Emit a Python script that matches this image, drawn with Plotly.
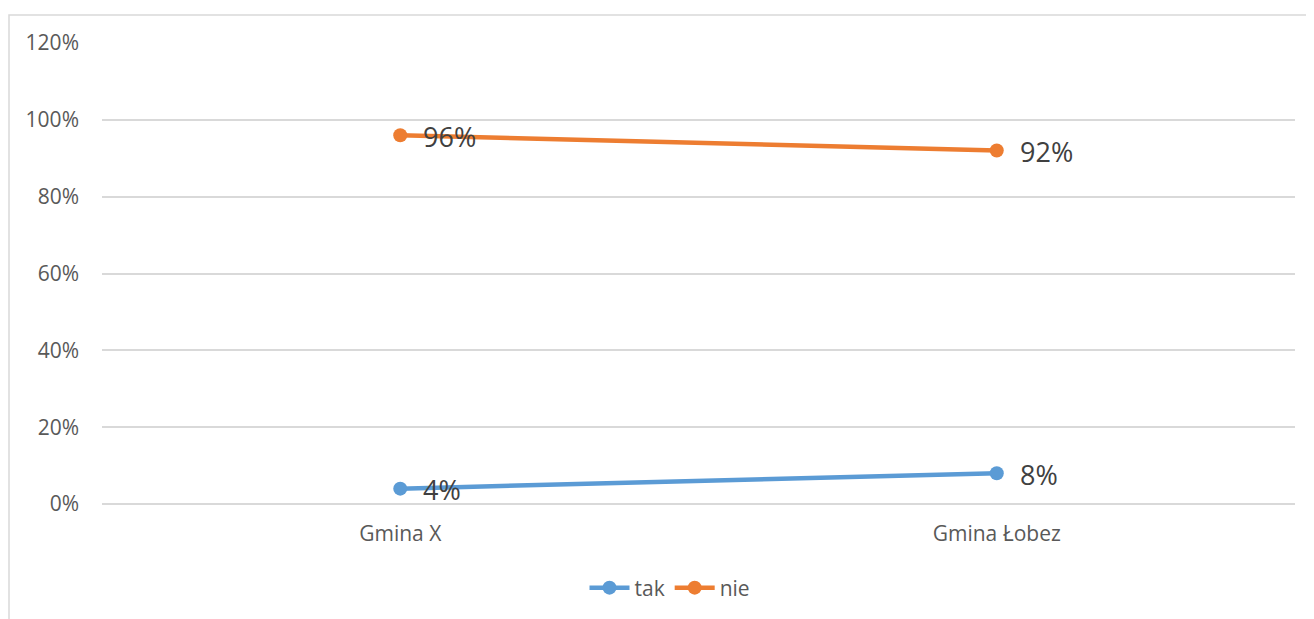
import plotly.graph_objects as go

categories = ["Gmina X", "Gmina Łobez"]
tak = [0.04, 0.08]
nie = [0.96, 0.92]
tick_vals = [0, 0.2, 0.4, 0.6, 0.8, 1.0, 1.2]
tick_text = ["0%", "20%", "40%", "60%", "80%", "100%", "120%"]

FONT = "Open Sans"
W, H = 1306, 611
L, T, PW, PH = 94, 35, 1193, 462

fig = go.Figure()
annotations = []
for name, vals, color in [("tak", tak, "#5B9BD5"), ("nie", nie, "#ED7D31")]:
    fig.add_trace(go.Scatter(
        x=categories, y=vals, name=name, mode="lines+markers",
        line=dict(color=color, width=4.5),
        marker=dict(color=color, size=14),
        cliponaxis=False,
    ))
    for c, v in zip(categories, vals):
        annotations.append(dict(
            x=c, y=v, xref="x", yref="y", text=f"{round(v*100)}%",
            showarrow=False, xanchor="left", yanchor="middle", xshift=21, yshift=-1,
            font=dict(family=FONT, size=27, color="#404040"),
        ))

fig.update_layout(
    width=W, height=H,
    margin=dict(l=L, r=W - L - PW, t=T, b=H - T - PH),
    paper_bgcolor="white", plot_bgcolor="white",
    font=dict(family=FONT, size=21, color="#595959"),
    showlegend=True,
    legend=dict(orientation="h", x=(670 - 8 - L) / PW, xanchor="center",
                y=-(588 - 8 - T - PH) / PH, yanchor="middle",
                font=dict(family=FONT, size=21, color="#595959"), itemwidth=40),
    xaxis=dict(type="category", range=[-0.5, 1.5], showgrid=False, zeroline=False,
               showline=False, ticks="", tickfont=dict(size=21, color="#595959"),
               ticklabelstandoff=15),
    yaxis=dict(range=[0, 1.2], tickvals=tick_vals, ticktext=tick_text,
               showgrid=True, gridcolor="#D9D9D9", gridwidth=1.5,
               zeroline=True, zerolinecolor="#D9D9D9", zerolinewidth=1.5,
               showline=False, ticks="", tickfont=dict(size=21, color="#595959"),
               ticklabelstandoff=22),
    annotations=annotations,
    shapes=[dict(type="rect", xref="paper", yref="paper",
                 x0=(1 - L) / PW, x1=(W + 20 - L) / PW,
                 y0=-(H + 20 - T - PH) / PH, y1=(T + PH - 7) / PH,
                 line=dict(color="#D9D9D9", width=1.5), fillcolor="rgba(0,0,0,0)",
                 layer="below")],
)

fig.write_html("out.html")
